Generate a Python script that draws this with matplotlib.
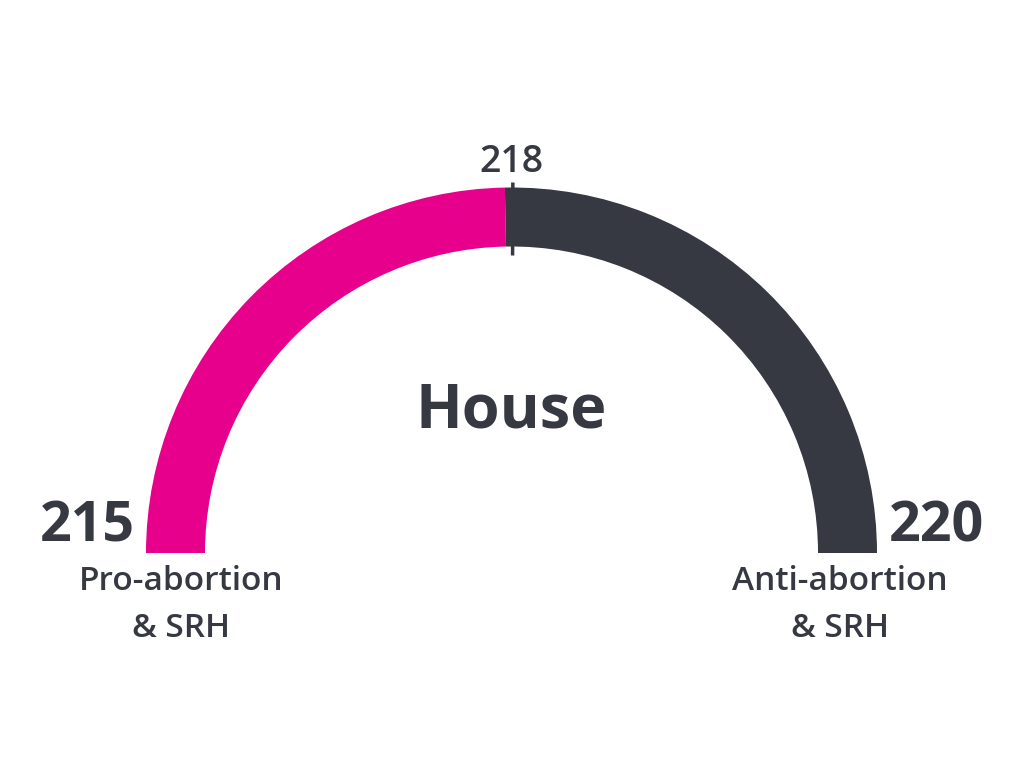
import math
import matplotlib.pyplot as plt
from matplotlib.patches import Wedge

# data
chamber = "House"
seat_counts = [215, 220]
side_labels = ["Pro-abortion\n& SRH", "Anti-abortion\n& SRH"]
majority = 218
colors = ["#E6008C", "#363842"]
text_color = "#363842"

plt.rcParams['font.family'] = ['Open Sans', 'Lato', 'DejaVu Sans']

fig = plt.figure(figsize=(10.24, 7.68), dpi=100)
ax = fig.add_axes([0, 0, 1, 1])
ax.set_xlim(0, 1024)
ax.set_ylim(0, 768)
ax.axis('off')

# gauge geometry (pixels)
cx, cy = 511.5, 215
r_out, ring = 365.5, 59

total = sum(seat_counts)
split = 180 - 180 * seat_counts[0] / total
ax.add_patch(Wedge((cx, cy), r_out, split, 180, width=ring, color=colors[0], lw=0))
ax.add_patch(Wedge((cx, cy), r_out, 0, split, width=ring, color=colors[1], lw=0))

# majority marker
m_ang = math.radians(180 - 180 * majority / total)
r1, r2 = r_out + 5, r_out - ring - 9
ax.plot([cx + r1 * math.cos(m_ang), cx + r2 * math.cos(m_ang)],
        [cy + r1 * math.sin(m_ang), cy + r2 * math.sin(m_ang)],
        color=text_color, lw=2.5, solid_capstyle='butt')
ax.text(cx, 596, str(majority), ha='center', va='baseline',
        fontsize=27, fontweight='semibold', color=text_color)

ax.text(cx, 340, chamber, ha='center', va='baseline',
        fontsize=44, fontweight='bold', color=text_color)

# side numbers and labels
ax.text(87, 226, str(seat_counts[0]), ha='center', va='baseline',
        fontsize=40, fontweight='bold', color=text_color)
ax.text(936, 226, str(seat_counts[1]), ha='center', va='baseline',
        fontsize=40, fontweight='bold', color=text_color)
ax.text(181, 203, side_labels[0], ha='center', va='top',
        fontsize=24, fontweight='semibold', color=text_color, linespacing=1.55)
ax.text(840, 203, side_labels[1], ha='center', va='top',
        fontsize=24, fontweight='semibold', color=text_color, linespacing=1.55)

fig.savefig('out.png', dpi=100, facecolor='white')
